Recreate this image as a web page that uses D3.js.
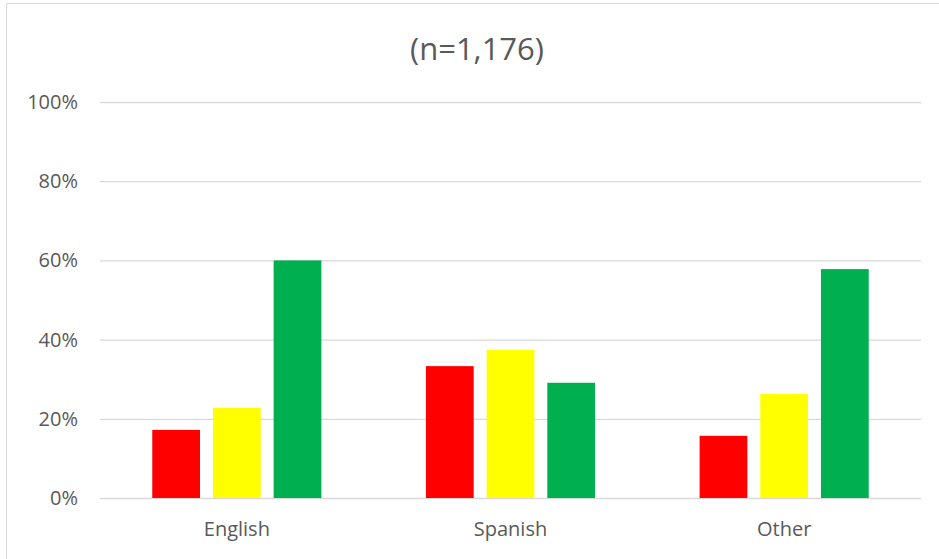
<!DOCTYPE html>
<html><head><meta charset="utf-8">
<script src="https://cdn.jsdelivr.net/npm/d3@7"></script>
<style>html,body{margin:0;padding:0;background:#fff;}svg{display:block;}</style>
</head><body>
<script>
const categories = ["English", "Spanish", "Other"];
const series = ["Red", "Yellow", "Green"];
const redValues = [17.2, 33.3, 15.7];
const yellowValues = [22.8, 37.4, 26.3];
const greenValues = [60.0, 29.1, 57.8];
const yTicks = [0, 20, 40, 60, 80, 100];
const colors = ["#FF0000", "#FFFF00", "#00B050"];
const title = "(n=1,176)";

const W = 939, H = 559;
const margin = {left: 100, right: 18, top: 102, bottom: 61};
const svg = d3.select("body").append("svg").attr("width", W).attr("height", H);

svg.append("rect").attr("x", 6.5).attr("y", 3.5).attr("width", W).attr("height", H)
  .attr("fill", "#fff").attr("stroke", "#d9d9d9").attr("stroke-width", 1);

const x = d3.scaleBand().domain(categories).range([margin.left, W - margin.right])
  .paddingInner(0.382).paddingOuter(0.191);
const xs = d3.scaleBand().domain(series).range([0, x.bandwidth()]).paddingInner(0.213).paddingOuter(0);
const y = d3.scaleLinear().domain([0, 100]).range([H - margin.bottom, margin.top]);

const font = "'Open Sans', sans-serif";

// gridlines
const yAxis = d3.axisLeft(y).tickValues(yTicks).tickSize(-(W - margin.right - margin.left))
  .tickFormat(d => d + "%").tickPadding(22);
const gy = svg.append("g").attr("transform", `translate(${margin.left},0)`).call(yAxis);
gy.select(".domain").remove();
gy.selectAll(".tick line").attr("stroke", "#d9d9d9").attr("stroke-width", 1.3);
gy.selectAll(".tick text").attr("fill", "#595959").style("font-family", font).style("font-size", "20px");

const data = categories.map((c, i) => ({cat: c, vals: [redValues[i], yellowValues[i], greenValues[i]]}));
const groups = svg.append("g").selectAll("g").data(data).join("g")
  .attr("transform", d => `translate(${x(d.cat)},0)`);
groups.selectAll("rect").data(d => d.vals.map((v, j) => ({s: series[j], v, j}))).join("rect")
  .attr("x", d => xs(d.s)).attr("width", xs.bandwidth())
  .attr("y", d => y(d.v)).attr("height", d => y(0) - y(d.v))
  .attr("fill", d => colors[d.j]);

// x axis labels
const xAxis = d3.axisBottom(x).tickSize(0).tickPadding(24);
const gx = svg.append("g").attr("transform", `translate(0,${y(0)})`).call(xAxis);
gx.select(".domain").remove();
gx.selectAll(".tick text").attr("fill", "#595959").style("font-family", font).style("font-size", "20px");

svg.append("text").attr("x", 477).attr("y", 60).attr("text-anchor", "middle")
  .attr("fill", "#595959").style("font-family", font).style("font-size", "31px").text(title);
</script>
</body></html>
